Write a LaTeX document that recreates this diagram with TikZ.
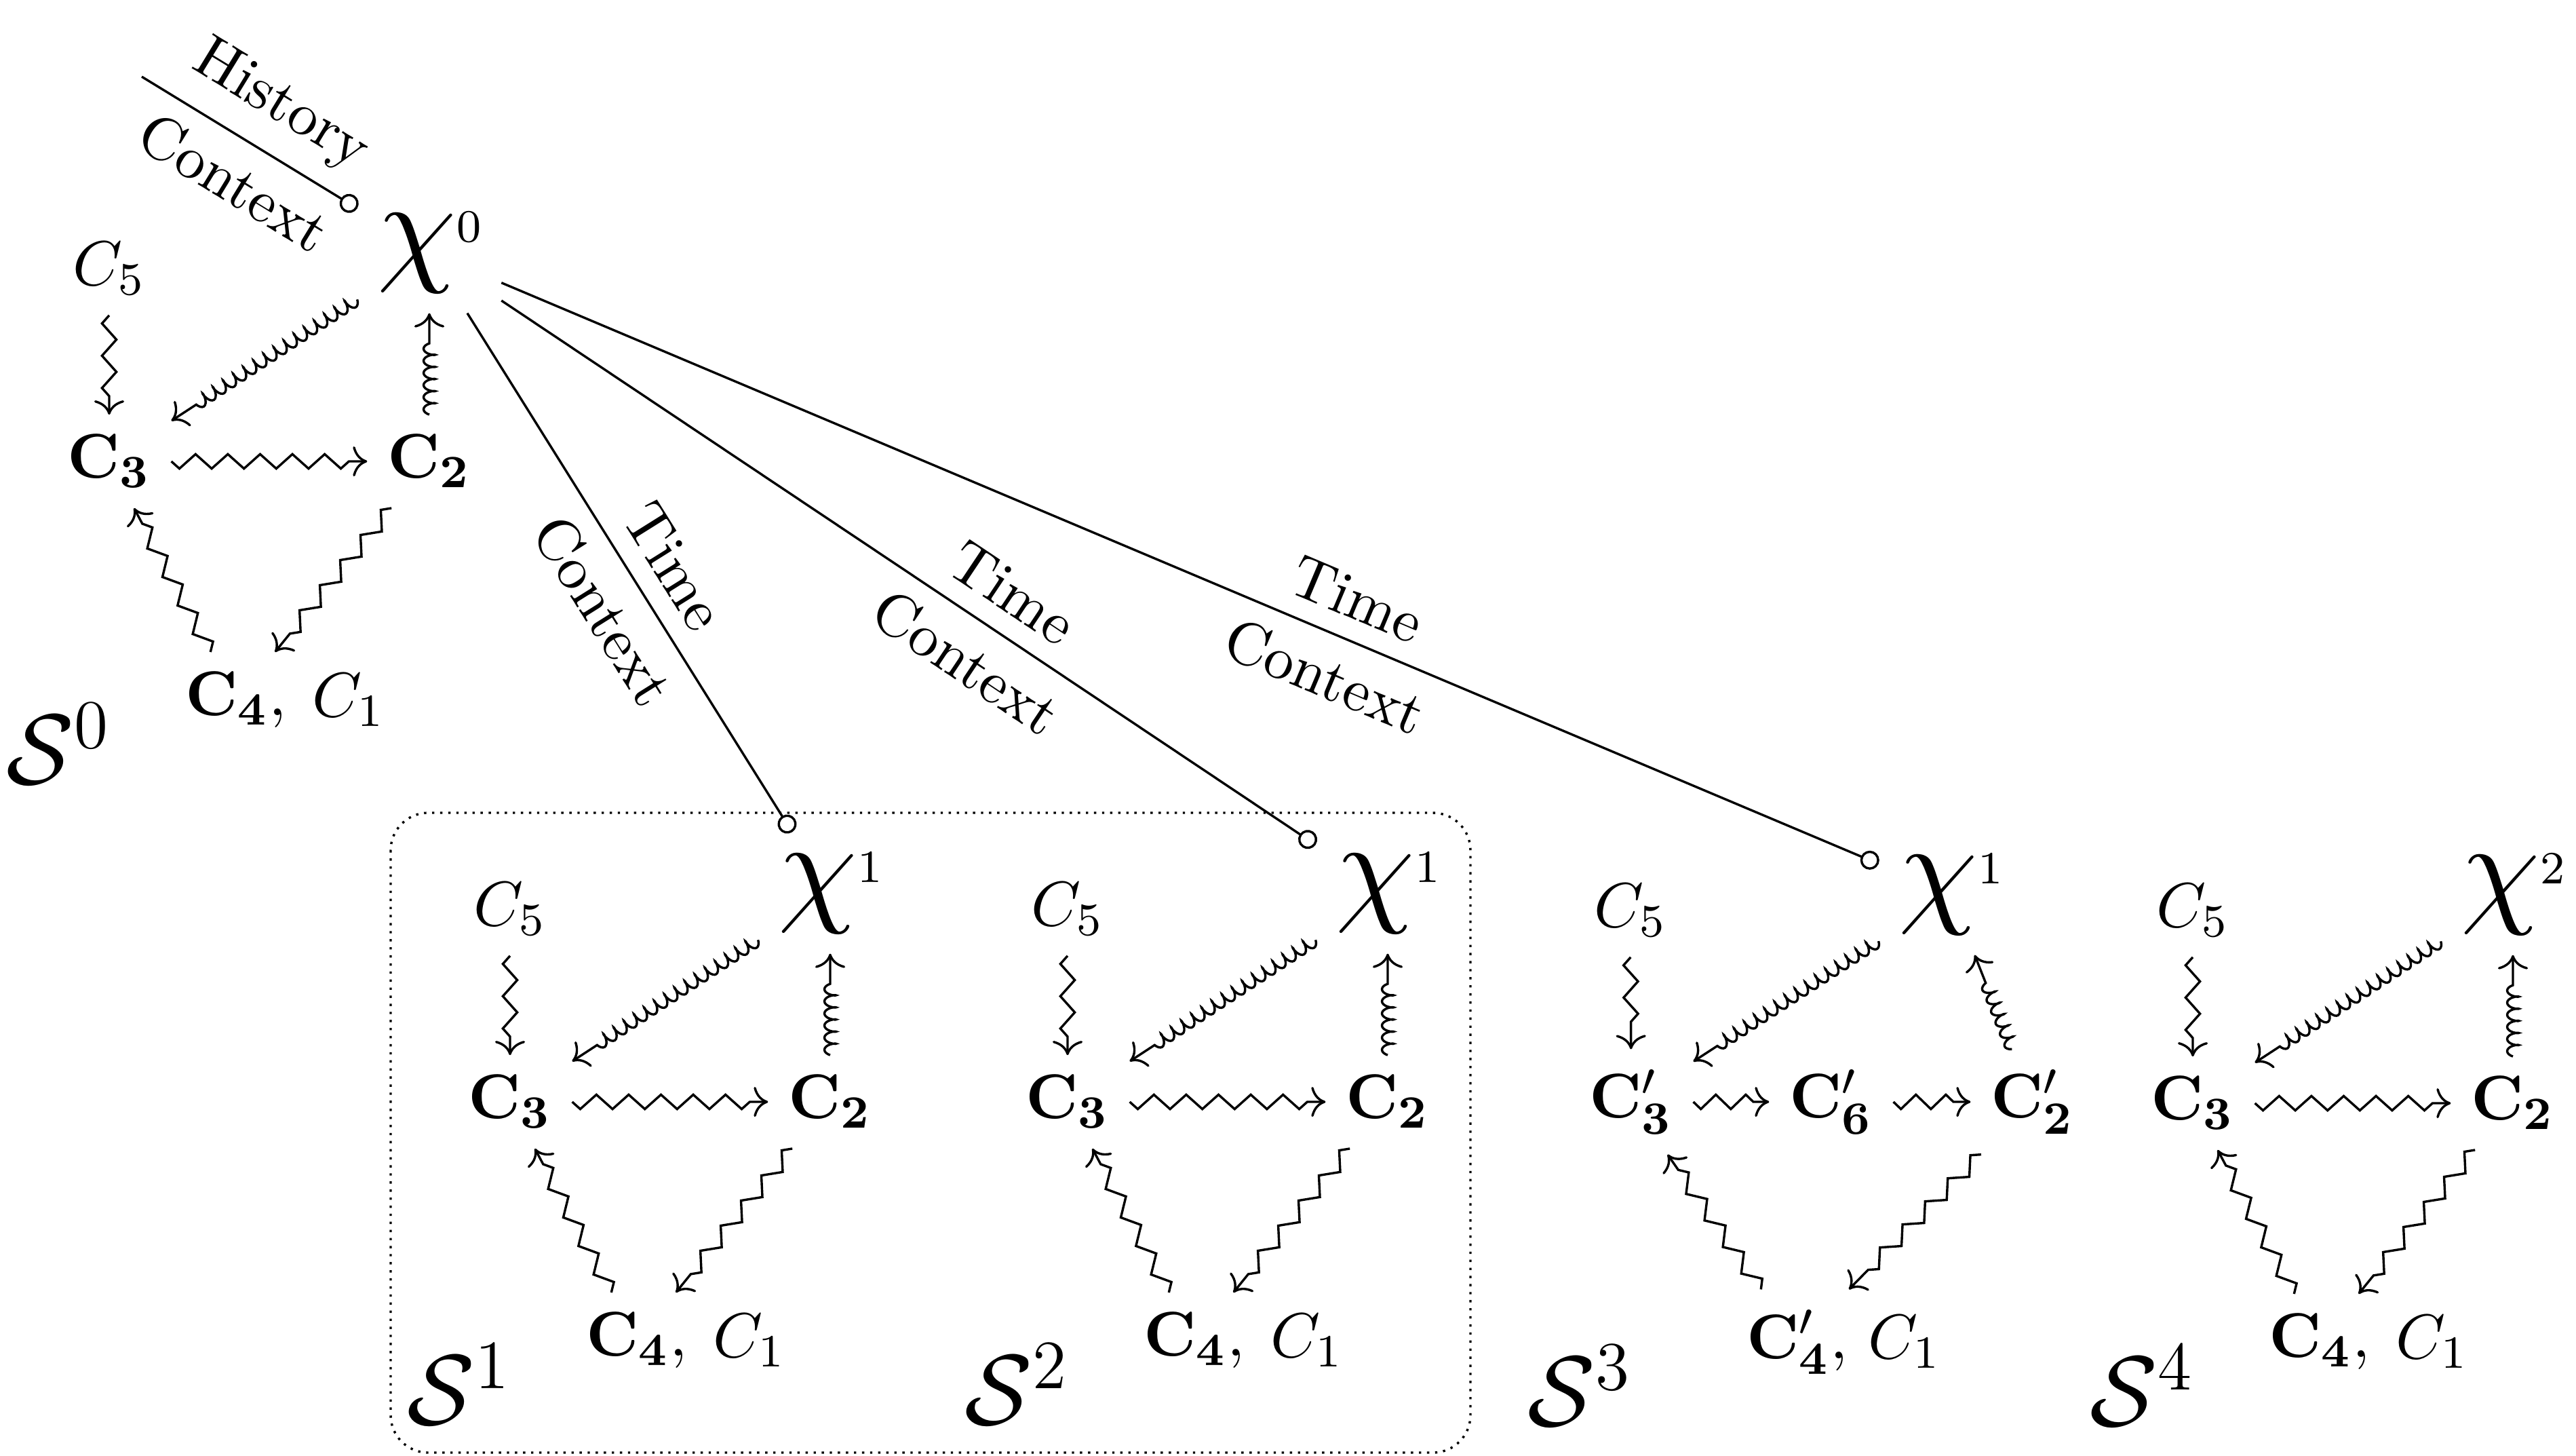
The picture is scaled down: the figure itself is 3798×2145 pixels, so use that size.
\documentclass[tikz,border=0pt]{standalone}
\usepackage{graphicx}
\usetikzlibrary{decorations.pathmorphing,arrows.meta}
\newcommand\bigchi{\scalebox{2.0}{$\chi$}}
\newcommand\chisup[1]{\bigchi\raisebox{4.6pt}{$\scriptstyle #1$}}
\begin{document}
\begin{tikzpicture}[x=0.0041284cm,y=-0.0041284cm,
  every node/.style={inner sep=3.33pt, font=\fontsize{10.95}{13}\selectfont},
  lbl/.style={font=\fontsize{10.45}{12.5}\selectfont, sloped},
  bigS/.style={font=\fontsize{17.28}{20}\selectfont},
  zz/.style={->, decorate, decoration={zigzag, mirror, amplitude=1.25pt, segment length=5.6pt, post length=2.5pt}},
  zzshort/.style={zz, decoration={segment length=5.2pt, post length=1.5pt}},
  cl/.style={->, decorate, decoration={coil, amplitude=1pt, segment length=2.1pt, aspect=0.4, post length=4.5pt}},
  ctx/.style={-{Circle[open,length=3.3pt]}},
  grp/.style={densely dotted, rounded corners=6.5pt}]
\useasboundingbox (0,0) rectangle (3798,2145);

% ---------- group 0
\node (x0) at (633,372) {\chisup{0}};
\node (c5a) at (161,396) {$C_5$};
\node (c3a) at (161,680) {$\mathbf{C_3}$};
\node (c2a) at (633,680) {$\mathbf{C_2}$};
\node (c4a) at (348,1032) {$\mathbf{C_4},$};
\node (c1a) at (514,1032) {$C_1$};
\node[bigS] (sa) at (87,1096) {$\mathcal{S}^0$};
\coordinate (h0) at (209,113);
\draw[ctx] (h0) -- node[lbl,above,pos=.53]{History} node[lbl,below,pos=.53]{Context} (x0);
\draw[zz] (c5a) -- (c3a);
\draw[zz] (c3a) -- (c2a);
\draw[cl] (x0) -- (c3a);
\draw[cl] (c2a) -- (x0);
\draw[zz] (c2a) -- (c4a);
\draw[zz] (c4a) -- (c3a);

% ---------- group 1
\node (x1) at (1224,1316) {\chisup{1}};
\node (c5b) at (752,1340) {$C_5$};
\node (c3b) at (752,1624) {$\mathbf{C_3}$};
\node (c2b) at (1224,1624) {$\mathbf{C_2}$};
\node (c4b) at (939,1976) {$\mathbf{C_4},$};
\node (c1b) at (1105,1976) {$C_1$};
\node[bigS] (sb) at (678,2040) {$\mathcal{S}^1$};
\draw[zz] (c5b) -- (c3b);
\draw[zz] (c3b) -- (c2b);
\draw[cl] (x1) -- (c3b);
\draw[cl] (c2b) -- (x1);
\draw[zz] (c2b) -- (c4b);
\draw[zz] (c4b) -- (c3b);

% ---------- group 2
\node (x2) at (2046,1316) {\chisup{1}};
\node (c5c) at (1574,1340) {$C_5$};
\node (c3c) at (1574,1624) {$\mathbf{C_3}$};
\node (c2c) at (2046,1624) {$\mathbf{C_2}$};
\node (c4c) at (1761,1976) {$\mathbf{C_4},$};
\node (c1c) at (1927,1976) {$C_1$};
\node[bigS] (sc) at (1500,2040) {$\mathcal{S}^2$};
\draw[zz] (c5c) -- (c3c);
\draw[zz] (c3c) -- (c2c);
\draw[cl] (x2) -- (c3c);
\draw[cl] (c2c) -- (x2);
\draw[zz] (c2c) -- (c4c);
\draw[zz] (c4c) -- (c3c);

% ---------- group 3
\node (x3) at (2876,1318) {\chisup{1}};
\node (c5d) at (2404,1342) {$C_5$};
\node (c3d) at (2405,1624) {$\mathbf{C'_3}$};
\node (c6d) at (2700,1624) {$\mathbf{C'_6}$};
\node (c2d) at (2997,1624) {$\mathbf{C'_2}$};
\node (c4d) at (2650,1978) {$\mathbf{C'_4},$};
\node (c1d) at (2808,1978) {$C_1$};
\node[bigS] (sd) at (2330,2042) {$\mathcal{S}^3$};
\draw[zz] (c5d) -- (c3d);
\draw[zzshort] (c3d) -- (c6d);
\draw[zzshort] (c6d) -- (c2d);
\draw[cl] (x3) -- (c3d);
\draw[cl] (c2d) -- (x3);
\draw[zz] (c2d) -- (c4d);
\draw[zz] (c4d) -- (c3d);

% ---------- group 4
\node (x4) at (3705,1318) {\chisup{2}};
\node (c5e) at (3233,1342) {$C_5$};
\node (c3e) at (3233,1626) {$\mathbf{C_3}$};
\node (c2e) at (3705,1626) {$\mathbf{C_2}$};
\node (c4e) at (3420,1978) {$\mathbf{C_4},$};
\node (c1e) at (3586,1978) {$C_1$};
\node[bigS] (se) at (3159,2042) {$\mathcal{S}^4$};
\draw[zz] (c5e) -- (c3e);
\draw[zz] (c3e) -- (c2e);
\draw[cl] (x4) -- (c3e);
\draw[cl] (c2e) -- (x4);
\draw[zz] (c2e) -- (c4e);
\draw[zz] (c4e) -- (c3e);

% ---------- time-context links
\draw[ctx] (x0) -- node[lbl,above,pos=.53]{Time} node[lbl,below,pos=.53]{Context} (x1);
\draw[ctx] (x0) -- node[lbl,above,pos=.6]{Time} node[lbl,below,pos=.6]{Context} (x2);
\draw[ctx] (x0) -- node[lbl,above,pos=.61]{Time} node[lbl,below,pos=.61]{Context} (x3);

% ---------- dotted frame
\draw[grp] (576,1198) rectangle (2168,2141);
\end{tikzpicture}
\end{document}
